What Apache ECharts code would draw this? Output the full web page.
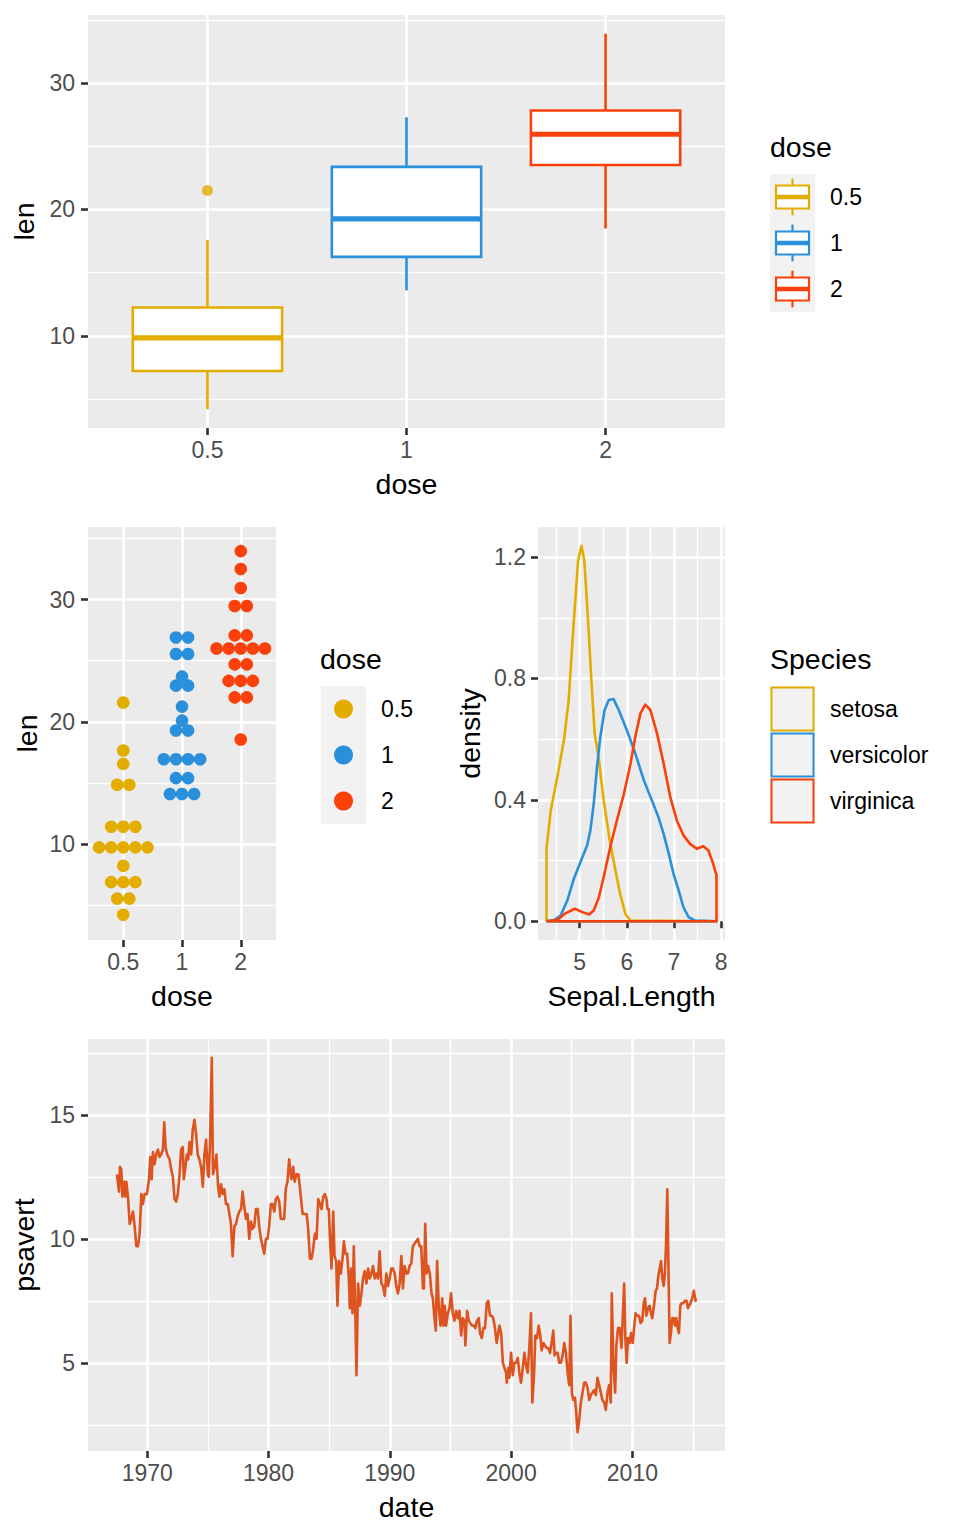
<!DOCTYPE html>
<html><head><meta charset="utf-8">
<script src="https://cdn.jsdelivr.net/npm/echarts@6/dist/echarts.min.js"></script>
<style>html,body{margin:0;padding:0;background:#fff}#c{width:960px;height:1536px}</style>
</head><body><div id="c"></div>
<script>
// ---------------- DATA ----------------
// Panel 1: ToothGrowth boxplot (five-number summaries per dose)
const doseLabels = ['0.5', '1', '2'];
const lenMin    = [4.2, 13.6, 18.5];
const lenQ1     = [7.225, 16.25, 23.525];
const lenMedian = [9.85, 19.25, 25.95];
const lenQ3     = [12.25, 23.375, 27.825];
const lenMax    = [17.6, 27.3, 33.9];
const outlierDose = [0];
const outlierLen  = [21.5];

// Panel 2: dot plot bins (bin centre, number of dots) per dose
const dotBins05   = [21.58, 17.66, 16.57, 14.86, 11.43, 9.74, 8.24, 6.9, 5.55, 4.24];
const dotCounts05 = [1, 1, 1, 2, 3, 5, 1, 3, 2, 1];
const dotBins1    = [26.9, 25.55, 23.7, 22.96, 21.25, 20.1, 19.3, 16.95, 15.4, 14.1];
const dotCounts1  = [2, 2, 1, 2, 1, 1, 2, 4, 2, 3];
const dotBins2    = [33.96, 32.5, 30.94, 29.47, 27.07, 26.0, 24.7, 23.35, 22.0, 18.56];
const dotCounts2  = [1, 1, 1, 2, 2, 5, 2, 3, 2, 1];

// Panel 3: iris Sepal.Length densities (outline incl. baseline)
const speciesNames = ['setosa', 'versicolor', 'virginica'];
const setosaX = [4.3, 4.3, 4.39, 4.53, 4.67, 4.77, 4.88, 4.97, 5.04, 5.1, 5.18, 5.25, 5.32, 5.41, 5.51, 5.64, 5.76, 5.86, 5.97, 6.08, 7.9, 4.3];
const setosaY = [0, 0.239, 0.365, 0.476, 0.597, 0.729, 0.993, 1.19, 1.237, 1.19, 0.993, 0.795, 0.619, 0.531, 0.399, 0.266, 0.167, 0.09, 0.024, 0.002, 0, 0];
const versicolorX = [4.3, 4.46, 4.6, 4.74, 4.88, 5.02, 5.16, 5.23, 5.3, 5.37, 5.44, 5.53, 5.62, 5.72, 5.83, 6.0, 6.18, 6.36, 6.53, 6.67, 6.78, 6.89, 6.99, 7.1, 7.2, 7.31, 7.45, 7.9, 4.3];
const versicolorY = [0, 0.004, 0.019, 0.068, 0.14, 0.195, 0.25, 0.30, 0.387, 0.509, 0.608, 0.696, 0.729, 0.732, 0.696, 0.63, 0.553, 0.465, 0.399, 0.343, 0.288, 0.222, 0.156, 0.101, 0.046, 0.013, 0.002, 0, 0];
const virginicaX = [4.3, 4.53, 4.7, 4.9, 5.06, 5.2, 5.3, 5.41, 5.51, 5.65, 5.79, 5.94, 6.08, 6.18, 6.29, 6.39, 6.5, 6.64, 6.78, 6.92, 7.06, 7.2, 7.34, 7.48, 7.62, 7.73, 7.83, 7.9, 7.9, 4.3];
const virginicaY = [0, 0.004, 0.026, 0.041, 0.03, 0.022, 0.035, 0.079, 0.145, 0.244, 0.332, 0.42, 0.52, 0.608, 0.685, 0.714, 0.696, 0.619, 0.52, 0.41, 0.332, 0.283, 0.255, 0.239, 0.247, 0.233, 0.189, 0.151, 0, 0];

// Panel 4: economics psavert (date as decimal year)
const psavertDate = [
 1967.5,1967.67,1967.75,1967.86,1967.95,1968.08,1968.19,1968.27,1968.41,1968.55,1968.68,1968.82,1968.96,1969.10,1969.23,1969.37,1969.51,1969.64,1969.78,1969.97,
 1970.14,1970.25,1970.36,1970.47,1970.60,1970.74,1970.88,1971.01,1971.15,1971.29,1971.40,1971.51,1971.64,1971.84,1971.97,1972.11,1972.25,1972.38,1972.52,1972.66,
 1972.79,1972.93,1973.01,1973.15,1973.26,1973.37,1973.48,1973.62,1973.75,1973.89,1974.03,1974.16,1974.30,1974.44,1974.58,1974.71,1974.85,1974.99,1975.07,1975.18,
 1975.32,1975.42,1975.56,1975.70,1975.84,1975.95,1976.08,1976.22,1976.36,1976.49,1976.63,1976.77,1976.90,1977.04,1977.18,1977.32,1977.45,1977.59,1977.73,1977.86,
 1978.00,1978.14,1978.27,1978.41,1978.55,1978.68,1978.82,1978.96,1979.10,1979.23,1979.37,1979.51,1979.64,1979.78,1979.92,1980.05,1980.19,1980.33,1980.47,1980.60,
 1980.74,1980.88,1981.01,1981.15,1981.29,1981.42,1981.56,1981.70,1981.78,1981.89,1982.03,1982.16,1982.30,1982.47,
 1982.81,1983.00,1983.14,1983.27,1983.41,1983.55,1983.68,1983.82,1983.96,1984.10,1984.23,1984.37,1984.51,1984.64,1984.78,1984.86,1984.97,1985.05,1985.19,1985.33,
 1985.44,1985.58,1985.68,1985.82,1985.96,1986.10,1986.21,1986.34,1986.48,1986.62,1986.70,1986.81,1986.92,1987.03,1987.14,1987.25,1987.38,1987.52,1987.66,1987.79,
 1987.93,1988.07,1988.21,1988.34,1988.48,1988.62,1988.75,1988.89,1989.03,1989.16,1989.30,1989.44,1989.58,1989.71,1989.85,1989.99,1990.12,1990.26,1990.40,1990.53,
 1990.67,1990.81,1990.95,1991.08,1991.22,1991.36,1991.49,1991.63,1991.77,1991.90,1992.04,1992.18,1992.32,1992.45,1992.59,1992.73,1992.81,1992.92,1993.03,1993.16,
 1993.30,1993.44,1993.55,1993.68,1993.79,1993.90,1994.04,1994.18,1994.32,1994.42,1994.53,1994.64,1994.78,1994.92,1995.05,1995.19,1995.33,1995.47,1995.60,1995.74,
 1995.88,1996.01,1996.15,1996.23,1996.37,1996.51,1996.64,1996.78,1996.92,1997.05,1997.19,1997.33,1997.44,1997.58,1997.71,1997.85,1997.99,1998.12,1998.26,1998.40,
 1998.53,1998.67,1998.81,
 1999.04,1999.18,1999.32,1999.45,1999.59,1999.64,1999.78,1999.86,2000.00,2000.14,2000.27,2000.41,2000.55,2000.68,2000.82,2000.96,2001.10,2001.23,2001.37,2001.51,
 2001.64,2001.75,2001.89,2002.00,2002.14,2002.27,2002.41,2002.52,2002.66,2002.79,2002.93,2003.07,2003.21,2003.34,2003.48,2003.59,2003.70,2003.84,2003.97,2004.11,
 2004.25,2004.38,2004.52,2004.66,2004.79,2004.90,2005.01,2005.12,2005.26,2005.37,2005.48,2005.62,2005.75,2005.89,2006.03,2006.16,2006.30,2006.44,2006.58,2006.71,
 2006.85,2006.99,2007.12,2007.26,2007.40,2007.53,2007.67,2007.81,2007.95,2008.08,2008.22,2008.30,2008.44,2008.58,2008.68,2008.82,2008.96,2009.10,2009.21,2009.32,
 2009.42,2009.53,2009.64,2009.78,2009.89,2010.03,2010.16,2010.27,2010.41,2010.55,2010.68,2010.82,2010.93,2011.04,2011.15,2011.29,2011.42,2011.53,2011.64,2011.78,
 2011.92,2012.03,2012.14,2012.25,2012.36,2012.47,2012.58,2012.68,2012.77,2012.88,2012.99,2013.07,2013.18,2013.29,2013.40,2013.51,2013.62,2013.73,2013.84,2013.95,
 2014.05,2014.19,2014.33,2014.47,2014.58,2014.68,2014.79,2014.93,2015.07,2015.21,2015.25
];
const psavertValue = [
 12.6,11.9,12.9,12.8,11.7,12.3,11.7,12.3,11.7,10.6,10.8,11.1,10.5,9.7,9.7,10.2,11.8,11.4,11.8,11.8,
 12.4,13.3,12.4,13.5,13.0,13.4,13.6,13.3,13.4,13.6,14.7,13.7,13.4,13.2,12.8,12.5,11.6,11.5,11.8,12.6,
 13.6,13.7,12.4,12.9,13.4,13.2,13.9,13.4,14.4,14.8,14.2,13.4,13.2,12.9,12.1,13.4,14.0,12.6,12.5,14.0,
 17.3,12.6,12.9,13.4,12.1,11.7,12.2,11.8,12.0,11.4,11.4,11.0,10.6,9.3,10.5,10.6,10.9,11.1,11.2,11.9,
 11.3,10.8,11.0,10.0,10.7,10.4,10.5,11.2,11.2,10.5,10.0,9.7,9.4,10.0,10.0,10.5,11.4,11.4,11.1,11.6,
 11.7,11.5,10.8,10.8,10.8,12.0,12.3,13.2,12.8,12.4,12.9,12.3,12.6,12.6,
 11.0,11.0,11.0,10.4,9.2,9.2,9.6,10.2,10.0,11.6,11.4,11.2,11.7,11.8,11.6,11.2,11.2,10.2,8.8,11.1,
 9.3,9.1,7.3,9.1,8.6,9.2,9.9,9.4,9.4,8.4,7.2,8.8,7.0,9.7,7.3,4.5,8.2,7.3,7.8,8.4,
 8.7,8.2,8.8,8.4,8.6,8.9,8.4,8.6,8.4,9.5,8.2,8.1,7.7,8.6,8.1,8.4,8.8,8.8,8.6,8.1,
 7.8,8.2,9.3,8.0,8.9,8.6,8.6,8.9,9.0,9.7,9.8,9.9,10.0,9.7,9.7,8.0,8.0,10.6,8.6,8.9,
 8.6,7.8,7.6,6.8,6.3,9.1,7.2,6.5,7.6,6.5,7.3,6.5,7.0,7.2,7.8,7.0,6.7,7.1,6.8,7.1,
 6.1,6.8,6.7,5.7,7.1,6.7,6.6,6.5,6.5,6.4,6.7,6.8,6.2,6.0,6.4,6.4,7.4,7.5,6.9,6.9,
 6.8,6.4,5.8,
 6.5,6.2,5.0,4.8,4.6,4.2,4.8,4.4,5.4,4.5,5.0,5.0,5.2,4.6,4.2,4.8,5.4,4.9,4.6,5.7,
 7.0,3.4,4.5,6.1,6.0,6.5,6.1,5.5,5.8,5.7,5.6,5.6,5.4,5.8,6.3,5.3,5.4,5.4,5.0,5.0,
 5.3,5.8,5.4,4.6,4.1,6.9,3.8,3.5,3.6,3.0,2.2,2.7,3.4,3.8,4.2,4.2,4.0,3.5,3.7,3.8,
 3.9,3.7,4.4,4.1,3.8,3.5,3.4,3.1,3.8,4.1,3.4,7.8,4.9,3.8,5.7,6.4,6.4,5.6,6.9,8.2,
 6.0,5.0,6.0,5.8,6.2,5.8,6.5,7.0,6.9,6.9,6.6,6.7,7.4,7.6,6.9,7.2,7.3,7.0,6.8,7.3,
 7.9,8.0,8.5,8.8,9.1,8.4,8.1,8.6,9.7,12.0,8.4,5.8,6.2,6.8,6.8,6.5,6.8,6.4,6.2,7.3,
 7.4,7.4,7.5,7.5,7.2,7.3,7.4,7.6,7.9,7.5,7.6
];

// Tick labels
const lenTicks = [10, 20, 30];
const lenMinorTicks = [5, 15, 25, 35];
const densityTicks = [0, 0.4, 0.8, 1.2];
const densityMinorTicks = [0.2, 0.6, 1.0];
const sepalTicks = [5, 6, 7, 8];
const sepalMinorTicks = [4.5, 5.5, 6.5, 7.5];
const yearTicks = [1970, 1980, 1990, 2000, 2010];
const yearMinorTicks = [1975, 1985, 1995, 2005, 2015];
const psavertTicks = [5, 10, 15];
const psavertMinorTicks = [2.5, 7.5, 12.5, 17.5];

// ---------------- STYLE ----------------
const FONT = "'Liberation Sans', Arial, Helvetica, sans-serif";
const groupColors = ['#E3AD00', '#2B90DC', '#FA400B'];
const lineColor = '#DD5420';
const PANEL_BG = '#EBEBEB';
const KEY_BG = '#F2F2F2';
const MAJOR_W = 2.6, MINOR_W = 1.3;
const DOT_STEP = 0.206;   // horizontal stacking distance in x-axis units

function majorAxis(gridIndex, min, max, ticks, fmt, name, nameGap, labelMargin) {
  return {
    type: 'value', gridIndex, min, max,
    axisLine: { show: false },
    axisTick: { show: true, length: 7, customValues: ticks, lineStyle: { color: '#333333', width: 2.6 } },
    axisLabel: { customValues: ticks, formatter: fmt, color: '#4D4D4D', fontSize: 23, fontFamily: FONT, margin: labelMargin },
    splitLine: { show: true, lineStyle: { color: '#FFFFFF', width: MAJOR_W } },
    name, nameLocation: 'middle', nameGap,
    nameTextStyle: { fontSize: 28.5, color: '#000000', fontFamily: FONT }
  };
}
function minorAxis(gridIndex, min, max, ticks) {
  return {
    type: 'value', gridIndex, min, max,
    axisLine: { show: false },
    axisTick: { show: false, customValues: ticks },
    axisLabel: { show: false, customValues: ticks },
    splitLine: { show: true, lineStyle: { color: '#FFFFFF', width: MINOR_W } }
  };
}
const doseFmt = v => doseLabels[Math.round(v)];
const intFmt = v => String(Math.round(v));
const oneDec = v => v.toFixed(1);

// ranges
const boxY = [2.715, 35.385];
const dotY = [2.17, 35.93];
const catX = [-0.6, 2.6];
const sepalX = [4.12, 8.08];
const densY = [-0.0619, 1.2991];
const yearX = [1965.1125, 2017.6375];
const psY = [1.445, 18.055];

const grids = [
  { left: 88, top: 15, width: 637, height: 413 },
  { left: 88, top: 527, width: 188, height: 413 },
  { left: 538, top: 527, width: 187, height: 413 },
  { left: 88, top: 1039, width: 637, height: 412 }
].map(g => Object.assign({ show: true, backgroundColor: PANEL_BG, borderWidth: 0, containLabel: false }, g));

const xAxes = [
  majorAxis(0, catX[0], catX[1], [0, 1, 2], doseFmt, 'dose', 41, 10.5),            // 0
  majorAxis(1, catX[0], catX[1], [0, 1, 2], doseFmt, 'dose', 41, 10.5),            // 1
  minorAxis(2, sepalX[0], sepalX[1], sepalMinorTicks),                              // 2
  majorAxis(2, sepalX[0], sepalX[1], sepalTicks, intFmt, 'Sepal.Length', 41, 10.5), // 3
  minorAxis(3, yearX[0], yearX[1], yearMinorTicks),                                 // 4
  majorAxis(3, yearX[0], yearX[1], yearTicks, intFmt, 'date', 41, 10.5)             // 5
];
xAxes.forEach(a => { a.position = 'bottom'; a.offset = 0; });
const yAxes = [
  minorAxis(0, boxY[0], boxY[1], lenMinorTicks),                                  // 0
  majorAxis(0, boxY[0], boxY[1], lenTicks, intFmt, 'len', 47, 13),                // 1
  minorAxis(1, dotY[0], dotY[1], lenMinorTicks),                                  // 2
  majorAxis(1, dotY[0], dotY[1], lenTicks, intFmt, 'len', 47, 13),                // 3
  minorAxis(2, densY[0], densY[1], densityMinorTicks),                            // 4
  majorAxis(2, densY[0], densY[1], densityTicks, oneDec, 'density', 54, 12),      // 5
  minorAxis(3, psY[0], psY[1], psavertMinorTicks),                                // 6
  majorAxis(3, psY[0], psY[1], psavertTicks, intFmt, 'psavert', 47, 13)           // 7
];
yAxes.forEach(a => { a.position = 'left'; a.offset = 0; });

// ---- series ----
const boxData = doseLabels.map((d, i) => [i, lenMin[i], lenQ1[i], lenMedian[i], lenQ3[i], lenMax[i]]);
const boxSeries = {
  type: 'custom', xAxisIndex: 0, yAxisIndex: 1, z: 5,
  encode: { x: 0, y: [1, 2, 3, 4, 5] },
  data: boxData,
  renderItem: function (params, api) {
    const x = api.value(0);
    const lo = api.coord([x, api.value(1)]);
    const q1 = api.coord([x, api.value(2)]);
    const md = api.coord([x, api.value(3)]);
    const q3 = api.coord([x, api.value(4)]);
    const hi = api.coord([x, api.value(5)]);
    const hw = api.size([0.75, 0])[0] / 2;
    const c = groupColors[params.dataIndex];
    return { type: 'group', children: [
      { type: 'line', shape: { x1: lo[0], y1: lo[1], x2: q1[0], y2: q1[1] }, style: { stroke: c, lineWidth: 2.6 } },
      { type: 'line', shape: { x1: q3[0], y1: q3[1], x2: hi[0], y2: hi[1] }, style: { stroke: c, lineWidth: 2.6 } },
      { type: 'rect', shape: { x: q1[0] - hw, y: q3[1], width: 2 * hw, height: q1[1] - q3[1] }, style: { fill: '#FFFFFF', stroke: c, lineWidth: 2.6 } },
      { type: 'line', shape: { x1: md[0] - hw, y1: md[1], x2: md[0] + hw, y2: md[1] }, style: { stroke: c, lineWidth: 5.2 } }
    ] };
  }
};

const outlierSeries = {
  type: 'scatter', xAxisIndex: 0, yAxisIndex: 1, z: 6, symbolSize: 11,
  data: outlierDose.map((d, i) => ({ value: [d, outlierLen[i]], itemStyle: { color: groupColors[d] } }))
};

function dotData(bins, counts, cat) {
  const out = [];
  bins.forEach((b, i) => {
    const n = counts[i];
    for (let k = 0; k < n; k++) out.push([cat + (k - (n - 1) / 2) * DOT_STEP, b]);
  });
  return out;
}
const dotSets = [[dotBins05, dotCounts05], [dotBins1, dotCounts1], [dotBins2, dotCounts2]];
const dotSeries = dotSets.map((s, i) => ({
  type: 'scatter', xAxisIndex: 1, yAxisIndex: 3, symbolSize: 12.6, z: 5,
  itemStyle: { color: groupColors[i], opacity: 1 },
  data: dotData(s[0], s[1], i)
}));

const densSets = [[setosaX, setosaY], [versicolorX, versicolorY], [virginicaX, virginicaY]];
const densSeries = densSets.map((s, i) => ({
  type: 'line', xAxisIndex: 3, yAxisIndex: 5, showSymbol: false, symbol: 'none', smooth: false, z: 5 + i,
  lineStyle: { color: groupColors[i], width: 2.6, join: 'round' },
  data: s[0].map((x, j) => [x, s[1][j]])
}));

const psSeries = {
  type: 'line', xAxisIndex: 5, yAxisIndex: 7, showSymbol: false, symbol: 'none', smooth: false, z: 5,
  lineStyle: { color: lineColor, width: 2.6, join: 'round' },
  data: psavertDate.map((d, i) => [d, psavertValue[i]])
};

// ---- legends (drawn as graphic elements) ----
const graphics = [];
function txt(x, y, s, size) {
  graphics.push({ type: 'text', x, y, z: 10, style: { text: s, fontSize: size, fontFamily: FONT, fill: '#000000', align: 'left', verticalAlign: 'middle' } });
}
function rect(x, y, w, h, style) {
  graphics.push({ type: 'rect', z: 10, shape: { x, y, width: w, height: h }, style });
}
function line(x1, y1, x2, y2, style) {
  graphics.push({ type: 'line', z: 11, shape: { x1, y1, x2, y2 }, style });
}
// legend 1: boxplot keys
txt(770, 147, 'dose', 28.5);
doseLabels.forEach((d, i) => {
  const y = 174 + 46 * i, c = groupColors[i];
  rect(770, y, 45, 46, { fill: KEY_BG });
  line(792.5, y + 4.6, 792.5, y + 41.4, { stroke: c, lineWidth: 2.2 });
  graphics.push({ type: 'rect', z: 12, shape: { x: 776, y: y + 11.5, width: 33, height: 23 }, style: { fill: '#FFFFFF', stroke: c, lineWidth: 2.2 } });
  graphics.push({ type: 'line', z: 13, shape: { x1: 776, y1: y + 23, x2: 809, y2: y + 23 }, style: { stroke: c, lineWidth: 4.4 } });
  txt(830, y + 23, d, 23);
});
// legend 2: dot keys
txt(320, 659, 'dose', 28.5);
doseLabels.forEach((d, i) => {
  const y = 686 + 46 * i;
  rect(321, y, 45, 46, { fill: KEY_BG });
  graphics.push({ type: 'circle', z: 12, shape: { cx: 343.5, cy: y + 23, r: 9.5 }, style: { fill: groupColors[i] } });
  txt(381, y + 23, d, 23);
});
// legend 3: density keys
txt(770, 659, 'Species', 28.5);
speciesNames.forEach((s, i) => {
  const y = 686 + 46 * i;
  rect(770, y, 45, 46, { fill: KEY_BG });
  graphics.push({ type: 'rect', z: 12, shape: { x: 771.5, y: y + 1.5, width: 42, height: 43 }, style: { fill: 'none', stroke: groupColors[i], lineWidth: 2 } });
  txt(830, y + 23, s, 23);
});

const chart = echarts.init(document.getElementById('c'), null, { renderer: 'svg', width: 960, height: 1536 });
chart.setOption({
  animation: false,
  backgroundColor: '#FFFFFF',
  textStyle: { fontFamily: FONT },
  grid: grids,
  xAxis: xAxes,
  yAxis: yAxes,
  series: [boxSeries, outlierSeries].concat(dotSeries, densSeries, [psSeries]),
  graphic: graphics
});
</script></body></html>
